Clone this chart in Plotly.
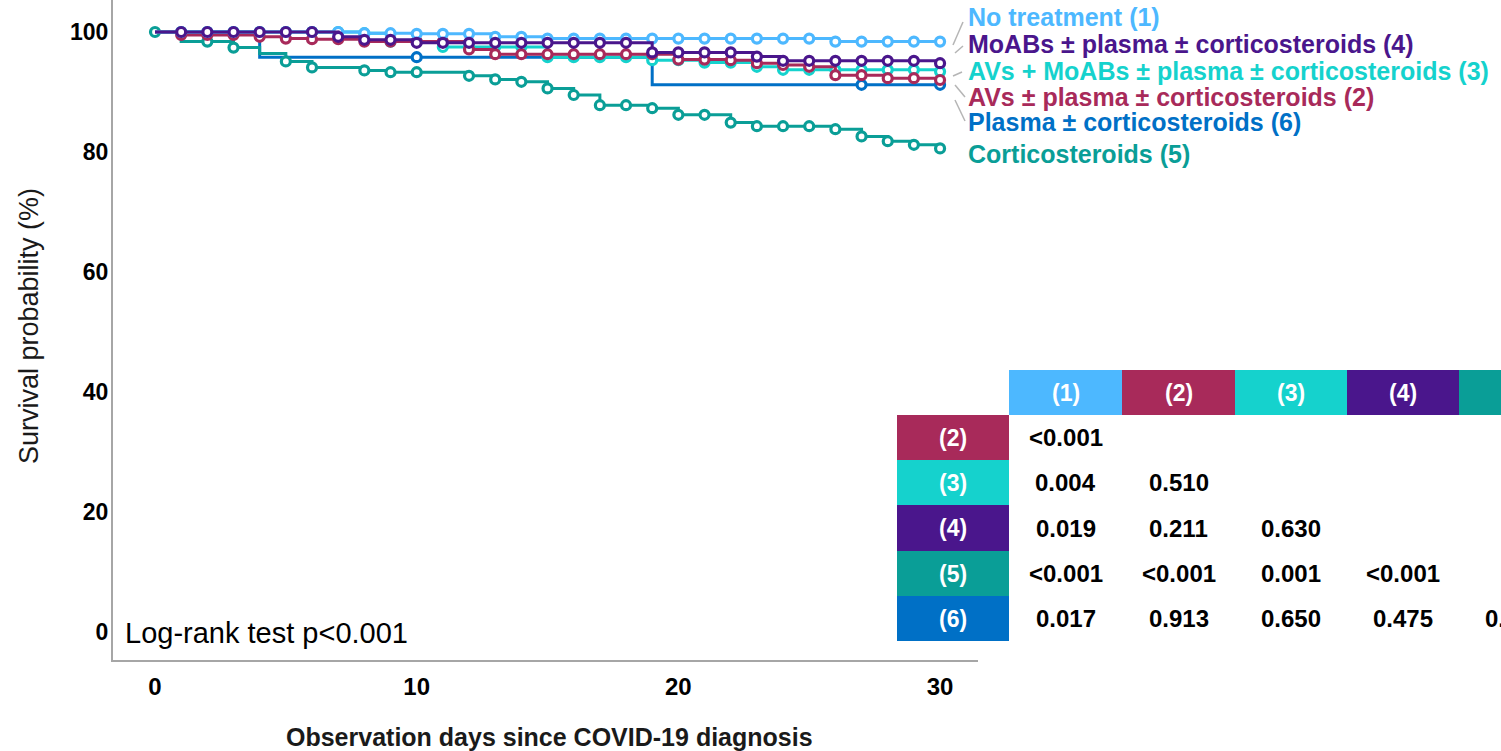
import plotly.graph_objects as go

# ---------------- data ----------------
days = list(range(31))

# Kaplan-Meier survival (%) read at each day 0..30
surv_no_treatment = [100, 100, 100, 100, 100, 100, 100, 100, 99.8, 99.8,
                     99.7, 99.7, 99.7, 99.2, 99.2, 98.9, 98.9, 98.9, 98.9, 98.9,
                     98.9, 98.9, 98.9, 98.9, 98.9, 98.9, 98.4, 98.4, 98.4, 98.4, 98.4]
surv_avs = [100, 99.5, 99.5, 99.5, 99.2, 98.9, 98.8, 98.8, 98.4, 98.4,
            98.4, 98.4, 97.1, 96.3, 96.3, 96.3, 96.3, 96.3, 96.3, 96.3,
            95.4, 95.4, 95.3, 94.8, 94.5, 94.2, 92.8, 92.8, 92.3, 92.3, 92.0]
surv_avs_moabs = [100, 100, 100, 100, 100, 100, 100, 100, 99.8, 98.4,
                  98.4, 97.5, 97.5, 97.5, 97.5, 95.8, 95.8, 95.8, 95.8, 95.3,
                  95.3, 94.9, 94.9, 94.2, 93.7, 93.7, 93.7, 93.7, 93.7, 93.7, 93.4]
surv_moabs = [100, 100, 100, 100, 100, 100, 100, 99.2, 98.7, 98.7,
              98.2, 98.2, 98.2, 98.2, 98.2, 98.2, 98.2, 98.2, 98.2, 96.6,
              96.6, 96.6, 96.6, 95.9, 95.2, 95.2, 95.2, 95.2, 95.2, 95.2, 94.8]
surv_cortico = [100, 98.4, 98.4, 97.4, 96.4, 95.1, 94.1, 94.1, 93.6, 93.3,
                93.3, 93.3, 92.7, 92.1, 91.7, 90.6, 89.5, 87.8, 87.8, 87.3,
                86.2, 86.2, 84.9, 84.3, 84.3, 84.3, 83.8, 82.6, 81.8, 81.2, 80.6]
surv_plasma = [100, 100, 100, 100, 95.8, 95.8, 95.8, 95.8, 95.8, 95.8,
               95.8, 95.8, 95.8, 95.8, 95.8, 95.8, 95.8, 95.8, 95.8, 91.2,
               91.2, 91.2, 91.2, 91.2, 91.2, 91.2, 91.2, 91.2, 91.2, 91.2, 91.2]

# censoring-marker days
cens_no_treatment = list(range(1, 31))
cens_avs = list(range(1, 31))
cens_avs_moabs = list(range(1, 31))
cens_moabs = list(range(1, 31))
cens_cortico = [0, 2, 3, 5, 6, 8, 9, 10] + list(range(12, 31))
cens_plasma = [10, 27, 30]

series_names = ["No treatment (1)", "MoABs ± plasma ± corticosteroids (4)",
                "AVs + MoABs ± plasma ± corticosteroids (3)",
                "AVs ± plasma ± corticosteroids (2)", "Plasma ± corticosteroids (6)",
                "Corticosteroids (5)"]

group_colors = {1: "#4db8ff", 2: "#a82a5a", 3: "#15d2cd", 4: "#4a168c",
                5: "#0a9e97", 6: "#0070c6"}

# pairwise log-rank table
col_labels = ["(1)", "(2)", "(3)", "(4)", "(5)"]
col_groups = [1, 2, 3, 4, 5]
row_labels = ["(2)", "(3)", "(4)", "(5)", "(6)"]
row_groups = [2, 3, 4, 5, 6]
pvalues = [["<0.001", "", "", "", ""],
           ["0.004", "0.510", "", "", ""],
           ["0.019", "0.211", "0.630", "", ""],
           ["<0.001", "<0.001", "0.001", "<0.001", ""],
           ["0.017", "0.913", "0.650", "0.475", "0.244"]]

x_ticks = [0, 10, 20, 30]
y_ticks = [0, 20, 40, 60, 80, 100]

# ---------------- layout helpers ----------------
W, H = 1501, 751
PL, PR, PT, PB = 113, 978, 0, 660
FONT = "Liberation Sans, Arial, sans-serif"


def pxx(x):
    return (x - PL) / (PR - PL)


def pxy(y):
    return (PB - y) / (PB - PT)


fig = go.Figure()

draw_order = [
    (surv_plasma, cens_plasma, 6),
    (surv_cortico, cens_cortico, 5),
    (surv_avs_moabs, cens_avs_moabs, 3),
    (surv_avs, cens_avs, 2),
    (surv_no_treatment, cens_no_treatment, 1),
    (surv_moabs, cens_moabs, 4),
]
for surv, cens, g in draw_order:
    c = group_colors[g]
    fig.add_trace(go.Scatter(x=days, y=surv, mode="lines",
                             line=dict(color=c, width=3, shape="hv"),
                             hoverinfo="skip", showlegend=False))
    fig.add_trace(go.Scatter(x=cens, y=[surv[d] for d in cens], mode="markers",
                             marker=dict(symbol="circle", size=9, color="white",
                                         line=dict(color=c, width=3.2)),
                             hoverinfo="skip", showlegend=False))

annotations = []
shapes = []


def note(x, y, text, size, color, xanchor="center", yanchor="middle", angle=0):
    annotations.append(dict(x=pxx(x), y=pxy(y), xref="paper", yref="paper",
                            xanchor=xanchor, yanchor=yanchor, showarrow=False,
                            textangle=angle, text=text,
                            font=dict(family=FONT, size=size, color=color)))


# series labels at right with leader lines
label_groups = [1, 4, 3, 2, 6, 5]
label_y = [17.5, 43.5, 71, 97, 122, 154]
for name, g, yy in zip(series_names, label_groups, label_y):
    note(966, yy, "<b>%s</b>" % name, 25, group_colors[g], xanchor="left")
leaders = [((953, 45), (963, 22)), ((955, 53), (963, 46)), ((953, 76), (962, 72)),
           ((955, 85), (965, 97)), ((955, 100), (965, 121))]
for (x0, y0), (x1, y1) in leaders:
    shapes.append(dict(type="line", xref="paper", yref="paper",
                       x0=pxx(x0), y0=pxy(y0), x1=pxx(x1), y1=pxy(y1),
                       line=dict(color="#b5b5b5", width=1.5)))

# table geometry
col_edges = [1009, 1122, 1235, 1347, 1459, 1572]
row_edges = [415, 460, 505, 551, 596, 641]
head_top = 370
rowlab_x = (897, 1009)

for j, lab in enumerate(col_labels):
    shapes.append(dict(type="rect", xref="paper", yref="paper",
                       x0=pxx(col_edges[j]), x1=pxx(col_edges[j + 1]),
                       y0=pxy(row_edges[0]), y1=pxy(head_top),
                       fillcolor=group_colors[col_groups[j]], line=dict(width=0)))
    note((col_edges[j] + col_edges[j + 1]) / 2, (head_top + row_edges[0]) / 2,
         "<b>%s</b>" % lab, 23, "white")

for i, lab in enumerate(row_labels):
    shapes.append(dict(type="rect", xref="paper", yref="paper",
                       x0=pxx(rowlab_x[0]), x1=pxx(rowlab_x[1]),
                       y0=pxy(row_edges[i + 1]), y1=pxy(row_edges[i]),
                       fillcolor=group_colors[row_groups[i]], line=dict(width=0)))
    yc = (row_edges[i] + row_edges[i + 1]) / 2
    note(sum(rowlab_x) / 2, yc, "<b>%s</b>" % lab, 23, "white")
    for j, val in enumerate(pvalues[i]):
        if val:
            note((col_edges[j] + col_edges[j + 1]) / 2, yc, "<b>%s</b>" % val, 24, "black")

# log-rank text
note(123, 633, "Log-rank test p<0.001", 29, "black", xanchor="left")

# axis titles
note(549, 737, "<b>Observation days since COVID-19 diagnosis</b>", 25, "#1a1a1a")
note(29, 326, "Survival probability (%)", 27, "#1a1a1a", angle=-90)

fig.update_layout(
    width=W, height=H,
    margin=dict(l=PL, r=W - PR, t=PT, b=H - PB, pad=0),
    paper_bgcolor="white", plot_bgcolor="white",
    showlegend=False,
    annotations=annotations, shapes=shapes,
    xaxis=dict(range=[-1.605, 31.45], tickvals=x_ticks, showgrid=False, zeroline=False,
               showline=True, linecolor="#a6a6a6", linewidth=2,
               ticks="outside", ticklen=4, tickcolor="rgba(0,0,0,0)",
               tickfont=dict(family=FONT, size=24, color="black", weight="bold")),
    yaxis=dict(range=[-4.667, 105.333], tickvals=y_ticks, showgrid=False, zeroline=False,
               showline=True, linecolor="#a6a6a6", linewidth=2,
               ticks="", ticklabelstandoff=-2,
               tickfont=dict(family=FONT, size=23, color="black", weight="bold")),
)

fig.write_html("out.html", config={"displayModeBar": False},
               post_script="document.body.style.margin='0';document.body.style.overflow='hidden';")
